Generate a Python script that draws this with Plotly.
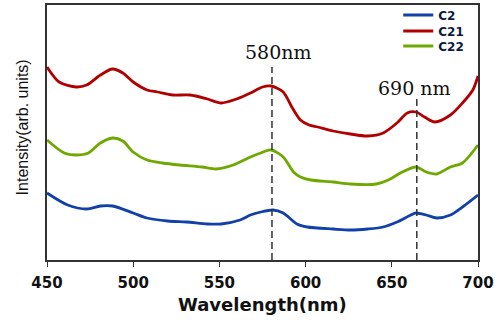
import plotly.graph_objects as go

# Data (arbitrary intensity units)
blue_wl = [450, 462, 473, 481, 488, 500, 508, 520, 531, 543, 551, 562, 568, 574, 581, 587, 595, 601, 616, 626, 636, 645, 653, 661, 664, 670, 676, 684, 691, 700]
blue_c2 = [67, 55, 51, 54, 54, 47, 42, 39, 38, 36, 36, 40, 45, 48, 50, 47, 36, 33, 31, 30, 31, 33, 38, 45, 47, 45, 42, 45, 53, 65]

red_wl = [450, 457, 467, 473, 481, 488, 494, 500, 508, 514, 523, 533, 543, 551, 560, 568, 575, 580, 587, 592, 597, 602, 607, 616, 626, 636, 645, 653, 659, 664, 669, 675, 684, 691, 697, 700]
red_c21 = [193, 178, 173, 175, 185, 191, 187, 178, 170, 168, 165, 165, 161, 157, 161, 167, 173, 174, 168, 153, 140, 135, 133, 129, 126, 124, 127, 137, 147, 148, 143, 138, 145, 157, 170, 184]

green_wl = [450, 460, 467, 474, 481, 488, 494, 500, 508, 517, 527, 540, 548, 558, 568, 574, 580, 587, 593, 597, 603, 616, 626, 641, 648, 655, 664, 670, 676, 684, 691, 700]
green_c22 = [120, 107, 105, 107, 117, 122, 119, 108, 100, 97, 95, 93, 91, 95, 103, 107, 110, 103, 88, 83, 80, 78, 76, 76, 80, 87, 93, 88, 86, 93, 97, 115]

series_names = ["C2", "C21", "C22"]
series_colors = ["#1040a8", "#b00000", "#6fa800"]

peak_wl = [580.5, 664.5]
peak_top = [193, 163]
peak_labels = ["580nm", "690 nm"]
label_wl = [584.3, 663.2]
label_y = [208, 172]

x_ticks = [450, 500, 550, 600, 650, 700]

PLOT_H = 255.0
legend_centers_px = [15, 31, 46]  # legend row centres, pixels from top of picture
legend_ids = ["legend", "legend2", "legend3"]

fig = go.Figure()
for wl, vals, name, col, lid in zip([blue_wl, red_wl, green_wl],
                                    [blue_c2, red_c21, green_c22],
                                    series_names, series_colors, legend_ids):
    fig.add_trace(go.Scatter(x=wl, y=vals, mode="lines", name=f"<b>{name}</b>", legend=lid,
                             line=dict(color=col, width=2.8, shape="spline", smoothing=0.8)))

for px, top in zip(peak_wl, peak_top):
    fig.add_trace(go.Scatter(x=[px, px], y=[0, top], mode="lines", showlegend=False,
                             hoverinfo="skip",
                             line=dict(color="#333333", width=1.5, dash="7px,4px")))

for lx, ly, txt in zip(label_wl, label_y, peak_labels):
    fig.add_annotation(x=lx, y=ly, text=txt, showarrow=False,
                       font=dict(family="DejaVu Serif", size=19, color="#111111"),
                       xanchor="center", yanchor="middle")

fig.add_annotation(xref="paper", yref="paper", x=-25/431, y=0.52, text="Intensity(arb. units)",
                   textangle=-90, showarrow=False, xanchor="center", yanchor="middle",
                   font=dict(family="Liberation Sans, Arial", size=16, color="#111111"))
fig.add_annotation(xref="paper", yref="paper", x=0.5, y=-44/PLOT_H, text="<b>Wavelength(nm)</b>",
                   showarrow=False, xanchor="center", yanchor="middle",
                   font=dict(family="DejaVu Sans", size=18, color="#111111"))

fig.update_xaxes(range=[450, 700], tickvals=x_ticks, ticktext=[f"<b>{t}</b>" for t in x_ticks],
                 ticks="outside", ticklen=5, tickwidth=1.2, ticklabelstandoff=3,
                 tickcolor="#333333", showline=True, linecolor="#333333", linewidth=1.5,
                 mirror=True, showgrid=False, zeroline=False, automargin=False,
                 tickfont=dict(family="DejaVu Sans", size=15, color="#111111"))
fig.update_yaxes(range=[0, 255], showticklabels=False, ticks="", showline=True, automargin=False,
                 linecolor="#333333", linewidth=1.5, mirror=True, showgrid=False, zeroline=False)

layout_legends = {}
for lid, cy in zip(legend_ids, legend_centers_px):
    layout_legends[lid] = dict(x=0.815, y=(260 - cy) / PLOT_H, xanchor="left", yanchor="middle",
                               bgcolor="rgba(0,0,0,0)", borderwidth=0, itemwidth=30,
                               font=dict(family="DejaVu Sans", size=12, color="#0a1a40"))

fig.update_layout(
    width=503, height=320,
    margin=dict(l=47, r=25, t=5, b=60, autoexpand=False),
    paper_bgcolor="white", plot_bgcolor="white",
    showlegend=True,
    **layout_legends,
)

fig.write_html("out.html")
